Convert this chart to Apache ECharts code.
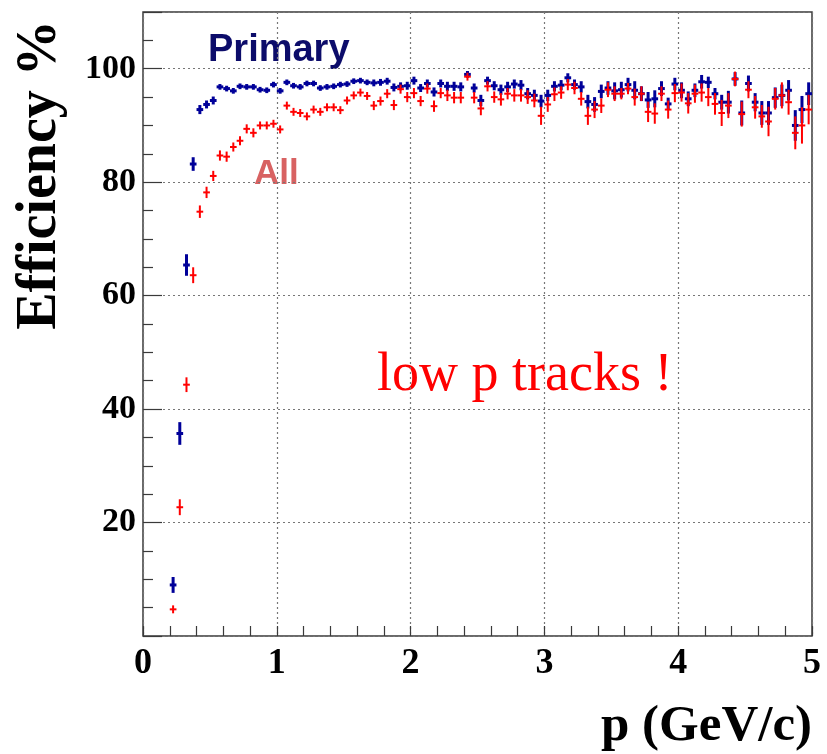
<!DOCTYPE html>
<html>
<head>
<meta charset="utf-8">
<title>Tracking efficiency vs momentum</title>
<script src="https://cdn.jsdelivr.net/npm/echarts@6/dist/echarts.min.js"></script>
<style>
  html, body { margin: 0; padding: 0; background: #ffffff; }
  #chart { width: 827px; height: 754px; }
</style>
</head>
<body>
<div id="chart"></div>
<script>
// Momentum bin centres (GeV/c), bin width 0.05 GeV/c
const momentum = [
  0.225, 0.275, 0.325, 0.375, 0.425, 0.475, 0.525, 0.575, 0.625, 0.675,
  0.725, 0.775, 0.825, 0.875, 0.925, 0.975, 1.025, 1.075, 1.125, 1.175,
  1.225, 1.275, 1.325, 1.375, 1.425, 1.475, 1.525, 1.575, 1.625, 1.675,
  1.725, 1.775, 1.825, 1.875, 1.925, 1.975, 2.025, 2.075, 2.125, 2.175,
  2.225, 2.275, 2.325, 2.375, 2.425, 2.475, 2.525, 2.575, 2.625, 2.675,
  2.725, 2.775, 2.825, 2.875, 2.925, 2.975, 3.025, 3.075, 3.125, 3.175,
  3.225, 3.275, 3.325, 3.375, 3.425, 3.475, 3.525, 3.575, 3.625, 3.675,
  3.725, 3.775, 3.825, 3.875, 3.925, 3.975, 4.025, 4.075, 4.125, 4.175,
  4.225, 4.275, 4.325, 4.375, 4.425, 4.475, 4.525, 4.575, 4.625, 4.675,
  4.725, 4.775, 4.825, 4.875, 4.925, 4.975
];
const binHalfWidth = 0.025;

// Efficiency (%) for primary tracks
const primaryEff = [
  9.0, 35.7, 65.4, 83.2, 92.8, 93.7, 94.4, 96.8, 96.5, 96.1,
  96.9, 96.8, 96.8, 96.3, 96.2, 97.2, 96.1, 97.6, 97.0, 96.8,
  97.4, 97.4, 96.6, 96.8, 96.9, 97.2, 97.3, 97.8, 97.9, 97.6,
  97.5, 97.6, 97.8, 96.7, 96.9, 97.0, 97.9, 96.6, 97.4, 95.9,
  97.4, 96.9, 96.9, 96.8, 99.0, 96.6, 94.4, 97.9, 97.0, 96.3,
  96.8, 97.3, 97.1, 95.6, 95.3, 94.3, 95.3, 96.9, 97.1, 98.4,
  97.2, 96.8, 94.2, 93.7, 96.0, 96.6, 96.1, 96.3, 97.2, 96.2,
  95.6, 94.5, 94.7, 96.5, 93.8, 97.3, 96.2, 94.7, 96.2, 97.7,
  97.6, 95.6, 94.1, 94.1, 98.2, 92.2, 97.4, 94.1, 92.2, 92.2,
  94.9, 95.3, 96.2, 90.0, 92.8, 95.6
];
const primaryErr = [
  1.4, 2.0, 1.9, 1.2, 0.8, 0.7, 0.7, 0.5, 0.5, 0.5,
  0.5, 0.5, 0.5, 0.5, 0.5, 0.5, 0.5, 0.5, 0.5, 0.5,
  0.5, 0.5, 0.5, 0.5, 0.5, 0.5, 0.5, 0.5, 0.5, 0.5,
  0.6, 0.6, 0.6, 0.7, 0.7, 0.7, 0.7, 0.7, 0.7, 0.8,
  0.7, 0.8, 0.8, 0.8, 0.6, 0.8, 1.0, 0.7, 0.8, 0.9,
  0.9, 0.8, 0.9, 1.0, 1.0, 1.1, 1.0, 0.9, 0.9, 0.8,
  0.9, 1.0, 1.2, 1.3, 1.2, 1.2, 1.5, 1.4, 1.2, 1.6,
  1.3, 1.4, 1.5, 1.3, 1.1, 1.1, 1.4, 1.3, 1.2, 1.2,
  1.0, 1.0, 1.3, 2.0, 1.2, 2.2, 1.4, 1.6, 2.1, 2.1,
  1.8, 1.9, 1.8, 2.7, 2.4, 2.0
];

// Efficiency (%) for all tracks
const allEff = [
  4.7, 22.7, 44.3, 63.6, 74.8, 78.2, 81.1, 84.7, 84.5, 86.2,
  87.3, 89.4, 88.7, 90.0, 90.0, 90.3, 89.3, 93.5, 92.4, 92.2,
  91.6, 92.8, 92.4, 93.2, 93.2, 92.7, 94.4, 95.3, 95.8, 95.2,
  93.5, 94.3, 95.6, 93.6, 96.4, 95.0, 95.7, 94.3, 96.5, 93.4,
  95.7, 95.3, 94.9, 94.9, 98.6, 94.9, 93.0, 96.9, 95.0, 94.6,
  95.6, 95.3, 95.3, 95.0, 94.4, 91.7, 93.7, 95.5, 95.8, 97.2,
  96.6, 94.7, 91.7, 92.8, 93.5, 96.3, 95.6, 95.6, 96.5, 95.0,
  95.6, 92.4, 92.1, 95.6, 92.8, 95.7, 95.8, 93.9, 95.6, 95.8,
  95.0, 93.8, 92.2, 93.5, 98.2, 92.0, 96.3, 93.2, 91.6, 90.7,
  94.7, 95.3, 94.1, 88.7, 90.0, 92.8
];
const allErr = [
  0.7, 1.4, 1.3, 1.4, 1.1, 1.0, 0.9, 0.9, 0.9, 0.8,
  0.8, 0.8, 0.8, 0.7, 0.7, 0.7, 0.7, 0.7, 0.7, 0.7,
  0.7, 0.7, 0.7, 0.7, 0.7, 0.7, 0.7, 0.7, 0.7, 0.7,
  0.8, 0.8, 0.8, 0.9, 0.8, 0.9, 0.9, 0.9, 0.9, 1.0,
  0.9, 1.0, 1.0, 1.0, 0.7, 1.0, 1.2, 0.9, 1.0, 1.1,
  1.0, 1.1, 1.1, 1.2, 1.2, 1.6, 1.3, 1.2, 1.1, 1.0,
  1.1, 1.2, 1.6, 1.5, 1.3, 1.3, 1.3, 1.0, 1.0, 1.5,
  1.3, 1.8, 1.8, 1.3, 1.6, 1.6, 1.6, 1.8, 1.6, 1.6,
  1.6, 1.9, 2.3, 2.2, 1.3, 2.2, 1.5, 2.0, 2.0, 2.6,
  1.9, 2.3, 2.2, 2.9, 3.2, 2.6
];

// Axis ranges and tick labels
const xRange = [0, 5];
const yRange = [0, 110];
const yTickLabels = [20, 40, 60, 80, 100];

function toPoints(eff, err) {
  return momentum.map((p, i) => [p, eff[i], err[i]]);
}

// Draws each bin as a cross: horizontal bar = bin width, vertical bar = stat. error
function crossRenderer(color, width) {
  return function (params, api) {
    const x = api.value(0), y = api.value(1), e = api.value(2);
    const left = api.coord([x - binHalfWidth, y]);
    const right = api.coord([x + binHalfWidth, y]);
    const lo = api.coord([x, y - e]);
    const hi = api.coord([x, y + e]);
    const style = { stroke: color, lineWidth: width, fill: null };
    return {
      type: 'group',
      children: [
        { type: 'line', shape: { x1: left[0], y1: left[1], x2: right[0], y2: right[1] }, style: style },
        { type: 'line', shape: { x1: lo[0], y1: lo[1], x2: hi[0], y2: hi[1] }, style: style }
      ]
    };
  };
}

const serifBold = { fontFamily: '"Liberation Serif", "Times New Roman", serif', fontWeight: 'bold' };

const chart = echarts.init(document.getElementById('chart'), null, { renderer: 'canvas' });
chart.setOption({
  animation: false,
  backgroundColor: '#ffffff',
  grid: {
    left: 143, right: 15, top: 12, bottom: 118,
    show: true, borderColor: '#3a3a3a', borderWidth: 1.5, backgroundColor: 'transparent'
  },
  xAxis: {
    type: 'value',
    min: xRange[0], max: xRange[1], interval: 1,
    axisLine: { show: false },
    axisTick: { show: true, inside: true, length: 10, lineStyle: { color: '#3a3a3a', width: 1.2 } },
    minorTick: { show: true, splitNumber: 5, length: 10, lineStyle: { color: '#3a3a3a', width: 1.2 } },
    splitLine: { show: true, lineStyle: { color: '#777', type: [2, 3], width: 1.2 } },
    axisLabel: Object.assign({ fontSize: 36, color: '#000', margin: 10 }, serifBold)
  },
  yAxis: {
    type: 'value',
    min: yRange[0], max: yRange[1], interval: 20,
    axisLine: { show: false },
    axisTick: { show: true, inside: true, length: 19, lineStyle: { color: '#3a3a3a', width: 1.2 } },
    minorTick: { show: true, splitNumber: 4, length: 10, lineStyle: { color: '#3a3a3a', width: 1.2 } },
    splitLine: { show: true, lineStyle: { color: '#777', type: [2, 3], width: 1.2 } },
    axisLabel: Object.assign({
      fontSize: 34, color: '#000', margin: 7,
      formatter: v => (yTickLabels.indexOf(v) >= 0 ? String(v) : '')
    }, serifBold)
  },
  graphic: [
    {
      type: 'text', x: 41, y: 175, rotation: Math.PI / 2,
      style: Object.assign({ text: 'Efficiency %', fontSize: 56, fill: '#000', align: 'center', verticalAlign: 'middle' }, serifBold)
    },
    {
      type: 'text', x: 812, y: 727,
      style: Object.assign({ text: 'p (GeV/c)', fontSize: 51, fill: '#000', align: 'right', verticalAlign: 'middle' }, serifBold)
    },
    {
      type: 'text', x: 208, y: 51,
      style: { text: 'Primary', fontSize: 38, fontWeight: 'bold', fontFamily: '"Liberation Sans", Arial, sans-serif', fill: '#0c0c6a', align: 'left', verticalAlign: 'middle' }
    },
    {
      type: 'text', x: 254, y: 174,
      style: { text: 'All', fontSize: 35, fontWeight: 'bold', fontFamily: '"Liberation Sans", Arial, sans-serif', fill: '#d86262', align: 'left', verticalAlign: 'middle' }
    },
    {
      type: 'text', x: 377, y: 376,
      style: { text: 'low p tracks !', fontSize: 54, fontFamily: '"Liberation Serif", "Times New Roman", serif', fill: '#ff0000', align: 'left', verticalAlign: 'middle' }
    }
  ],
  series: [
    {
      name: 'Primary', type: 'custom',
      data: toPoints(primaryEff, primaryErr),
      renderItem: crossRenderer('#000099', 3),
      encode: { x: 0, y: 1 }, z: 3
    },
    {
      name: 'All', type: 'custom',
      data: toPoints(allEff, allErr),
      renderItem: crossRenderer('#ff0000', 2),
      encode: { x: 0, y: 1 }, z: 4
    }
  ]
});
</script>
</body>
</html>
